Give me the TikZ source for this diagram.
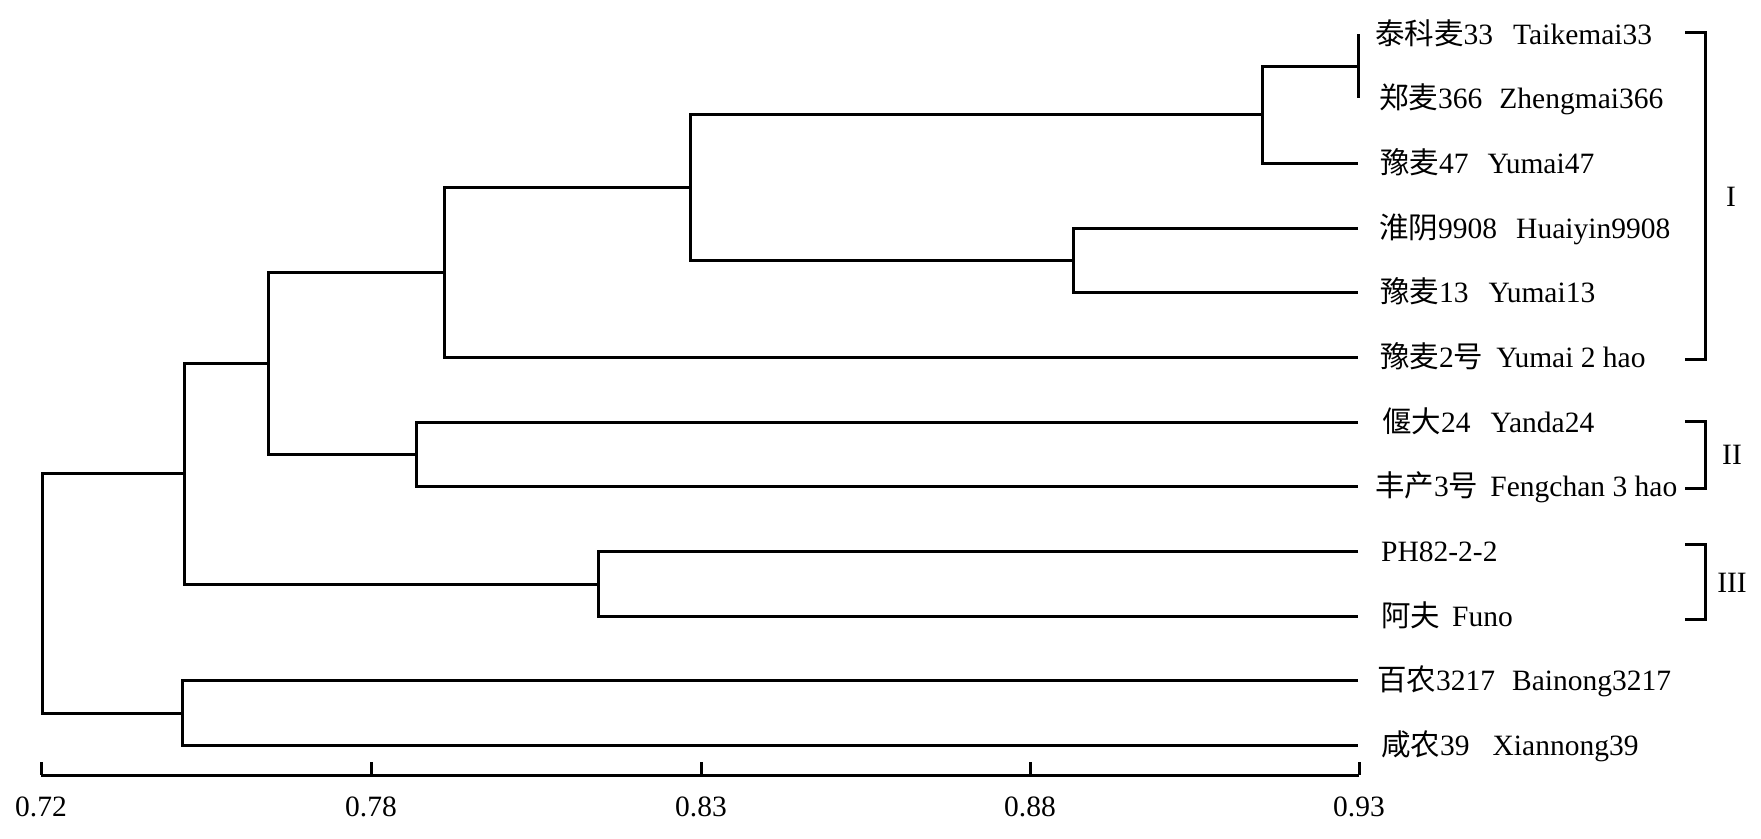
\documentclass[tikz,border=0pt]{standalone}
\usepackage{fontspec}
\setmainfont{Liberation Serif}
\newfontfamily\cjkfont{Noto Sans CJK SC}
\newcommand{\zh}[1]{{\cjkfont #1}}
\begin{document}
\begin{tikzpicture}[x=1pt,y=-1pt,
  tree/.style={line width=3pt,line join=miter},
  lab/.style={anchor=base west,inner sep=0pt,font=\fontsize{29.5}{35}\selectfont},
  tick/.style={anchor=base,inner sep=0pt,font=\fontsize{29.5}{35}\selectfont},
  grp/.style={anchor=center,inner sep=0pt,font=\fontsize{29.5}{35}\selectfont}]
\useasboundingbox (0,0) rectangle (1761,838);
% leaves (line ends at 0.93)
\foreach \n/\y in {L1/34,L2/98,L3/163,L4/228,L5/292,L6/357,L7/422,L8/486,L9/551,L10/616,L11/680,L12/745}
  \coordinate (\n) at (1358,\y);
% internal joins
\coordinate (a) at (1358,66);
\coordinate (b) at (1262,114);
\coordinate (c) at (1073,260);
\coordinate (d) at (690,187);
\coordinate (e) at (444,272);
\coordinate (f) at (416,454);
\coordinate (g) at (268,363);
\coordinate (h) at (598,584);
\coordinate (i) at (184,473);
\coordinate (j) at (182,713);
\coordinate (r) at (42,593);
\draw[tree] (L1) -| (a) |- (L2);
\draw[tree] (a) -| (b) |- (L3);
\draw[tree] (L4) -| (c) |- (L5);
\draw[tree] (b) -| (d) |- (c);
\draw[tree] (d) -| (e) |- (L6);
\draw[tree] (L7) -| (f) |- (L8);
\draw[tree] (e) -| (g) |- (f);
\draw[tree] (L9) -| (h) |- (L10);
\draw[tree] (g) -| (i) |- (h);
\draw[tree] (L11) -| (j) |- (L12);
\draw[tree] (i) -| (r) |- (j);
% labels
\node[lab] (t1) at (1375,44) {\zh{泰科麦}33\hspace{20pt}Taikemai33};
\node[lab] (t2) at (1379,108) {\zh{郑麦}366\hspace{17pt}Zhengmai366};
\node[lab] (t3) at (1380,173) {\zh{豫麦}47\hspace{19pt}Yumai47};
\node[lab] (t4) at (1379,238) {\zh{淮阴}9908\hspace{19pt}Huaiyin9908};
\node[lab] (t5) at (1380,302) {\zh{豫麦}13\hspace{20pt}Yumai13};
\node[lab] (t6) at (1380,367) {\zh{豫麦}2\zh{号}\hspace{13pt}Yumai 2 hao};
\node[lab] (t7) at (1382,432) {\zh{偃大}24\hspace{20pt}Yanda24};
\node[lab] (t8) at (1375,496) {\zh{丰产}3\zh{号}\hspace{12pt}Fengchan 3 hao};
\node[lab] (t9) at (1381,561) {PH82-2-2};
\node[lab] (t10) at (1381,626) {\zh{阿夫}\hspace{12pt}Funo};
\node[lab] (t11) at (1377,690) {\zh{百农}3217\hspace{17pt}Bainong3217};
\node[lab] (t12) at (1381,755) {\zh{咸农}39\hspace{23pt}Xiannong39};
% group brackets
\draw[tree] (1685,32) -- (1705,32) -- (1705,359) -- (1685,359);
\draw[tree] (1685,421) -- (1705,421) -- (1705,488) -- (1685,488);
\draw[tree] (1685,544) -- (1705,544) -- (1705,619) -- (1685,619);
\node[grp] (g1) at (1731,197) {I};
\node[grp] (g2) at (1732,455) {II};
\node[grp] (g3) at (1732,583) {III};
% axis
\coordinate (ax0) at (41,775);
\coordinate (ax1) at (1359,775);
\draw[tree] (ax0) -- (ax1);
\foreach \x/\t in {41/0.72,371/0.78,701/0.83,1030/0.88,1359/0.93}{
  \draw[tree] (\x,775) -- (\x,762);
  \node[tick] at (\x,816) {\t};
}
\end{tikzpicture}
\end{document}
